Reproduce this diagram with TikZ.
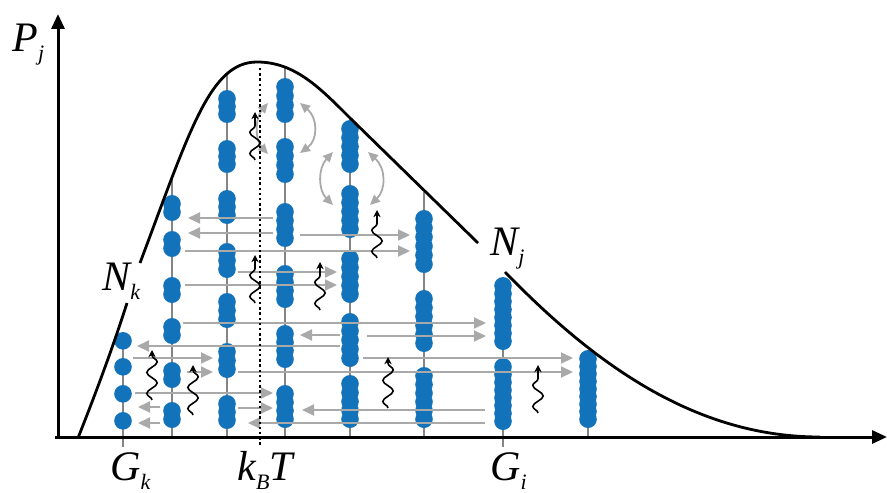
\documentclass[tikz,border=0pt]{standalone}
\usepackage{fontspec}
\setmainfont{Liberation Serif}
\usepackage{tikz}
\usetikzlibrary{arrows.meta,decorations.pathmorphing}
\definecolor{beadblue}{HTML}{1272BA}
\definecolor{chaingray}{HTML}{858585}
\definecolor{flowgray}{HTML}{A9A9A9}
\newcommand{\lowidx}[1]{\raisebox{-4.5pt}{\fontsize{11}{11}\selectfont #1}}
\tikzset{
  axis/.style={line width=1.5pt, -{Triangle[length=7.5pt,width=6.5pt]}},
  curve/.style={line width=1.4pt},
  chain/.style={draw=chaingray, line width=0.8pt},
  bead/.style={fill=beadblue},
  flow/.style={draw=flowgray, line width=1pt, -{Triangle[length=6pt,width=5.5pt]}},
  swap/.style={draw=flowgray, line width=0.9pt, {Triangle[length=5pt,width=4.5pt]}-{Triangle[length=5pt,width=4.5pt]}},
  photon/.style={line width=0.8pt, -{Stealth[length=3.6pt,width=3.6pt]}, decorate, decoration={snake, amplitude=2.6pt, segment length=10.5pt, post length=2pt}},
  level/.style={draw, line width=1pt, dash pattern=on 1.2pt off 1.4pt},
  lab/.style={font=\fontsize{21}{21}\selectfont\itshape, inner sep=0pt, anchor=base west}
}

\begin{document}
\begin{tikzpicture}[x=0.5pt, y=-0.5pt]
  \useasboundingbox (0,0) rectangle (887,492);

  \foreach \x/\top in {123/333,172/177,227/75,285/67,350/118,424/192,503/277,588/350}
    \draw[chain] (\x,437) -- (\x,\top);
  \draw[chain] (123,437) -- (123,447);
  \draw[chain] (503,437) -- (503,447);

  \foreach \x/\n/\groups in {123/1/{332/348,358/374,385/401,412/428},
      172/2/{195/221,231/257,277/303,318/344,362/388,402/428},
      227/3/{90/123,140/173,190/224,243/278,293/328,343/378,395/429},
      285/4/{78/123,138/183,203/247,265/308,325/368,385/428},
      350/5/{120/173,185/238,250/303,313/367,375/428},
      424/6/{210/273,290/352,367/428},
      503/8/{277/350,358/430},
      588/9/{350/428}}
    \foreach \t/\b in \groups {
      \pgfmathsetmacro{\gap}{(\b-\t-17.6)/max(\n-1,1)}
      \foreach \i in {1,...,\n}
        \fill[bead] (\x,{\t+8.8+(\i-1)*\gap}) circle[radius=8.8];
    }

  \foreach \y/\a/\b in {218/273/188, 233/273/188, 235/300/410, 251/185/410,
      272/238/337, 285/185/337, 323/183/486, 335/340/300, 336/367/486,
      346/340/137, 358/133/213, 358/363/573, 372/187/213, 372/238/573,
      393/135/273, 407/160/138, 408/238/273, 410/485/302, 423/160/138, 423/485/248}
    \draw[flow] (\a,\y) -- (\b,\y);

  \draw[swap] (268,103) .. controls (255,118) and (255,140) .. (268,154);
  \draw[swap] (300,103) .. controls (318,118) and (318,140) .. (300,153);
  \draw[swap] (333,152) .. controls (318,168) and (318,190) .. (333,205);
  \draw[swap] (368,152) .. controls (386,168) and (386,190) .. (370,205);

  \foreach \x/\t/\b in {255/112/160, 377/210/258, 255/255/303, 320/262/310,
      152/350/400, 193/365/415, 388/357/408, 538/365/413}
    \draw[photon] (\x,\b) -- (\x,\t);

  \draw[level] (260,68) -- (260,447);

  \draw[curve] (78,438) .. controls (95,395) and (112,350) .. (127,303);
  \draw[curve] (140,263) .. controls (190,130) and (210,62) .. (257,62)
      .. controls (295,62) and (320,88) .. (350,118) -- (478,243);
  \draw[curve] (505,272) .. controls (600,370) and (700,437) .. (820,437);

  \draw[axis] (58,437) -- (58,14);
  \draw[axis] (55,437) -- (887,437);

  \node[lab] (pj) at (12,52) {P\lowidx{j}};
  \node[lab] (nk) at (102,290) {N\lowidx{k}};
  \node[lab] (nj) at (490,255) {N\lowidx{j}};
  \node[lab] (gk) at (110,480) {G\lowidx{k}};
  \node[lab] (kbt) at (237,480) {k\lowidx{B}T};
  \node[lab] (gi) at (490,480) {G\lowidx{i}};
\end{tikzpicture}
\end{document}
